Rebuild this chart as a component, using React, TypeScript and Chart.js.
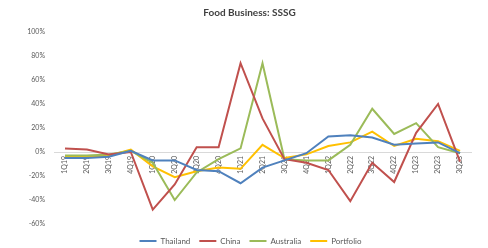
import React, { useEffect, useRef } from "react";
import { Chart, registerables } from "chart.js";

Chart.register(...registerables);

const categories = [
  "1Q19", "2Q19", "3Q19", "4Q19", "1Q20", "2Q20", "3Q20", "4Q20", "1Q21", "2Q21",
  "3Q21", "4Q21", "1Q22", "2Q22", "3Q22", "4Q22", "1Q23", "2Q23", "3Q23",
];
const thailand = [-5, -5, -4, 1, -7, -7, -15, -16, -26, -13, -7, -1, 13, 14, 12, 6, 7, 8, -1];
const china = [3, 2, -2, 0, -48, -27, 4, 4, 74, 28, -6, -9, -15, -41, -9, -25, 16, 40, -8];
const australia = [-3, -3, -2, 1, -9, -40, -17, -6, 3, 74, -6, -7, -7, 6, 36, 15, 24, 4, -1];
const portfolio = [-4, -4, -3, 2, -12, -21, -16, -13, -14, 6, -5, -2, 5, 8, 17, 5, 11, 9, 1];
const yTicks = [-60, -40, -20, 0, 20, 40, 60, 80, 100];

const FONT = "Lato";

const boxShift = {
  id: "boxShift",
  afterLayout(chart: any) {
    const lg = chart.legend;
    if (lg) {
      lg.left += 15;
      lg.right += 15;
      lg.top += 4;
      lg.bottom += 4;
    }
    const tt = chart.titleBlock;
    if (tt) {
      tt.left += 14;
      tt.right += 14;
    }
  },
};

export default function App() {
  const ref = useRef<HTMLCanvasElement | null>(null);
  useEffect(() => {
    if (!ref.current) return;
    const mk = (label: string, data: number[], color: string) => ({
      label,
      data,
      borderColor: color,
      backgroundColor: color,
      borderWidth: 2,
      pointRadius: 0,
      pointHoverRadius: 0,
      tension: 0,
      fill: false,
    });
    const chart = new Chart(ref.current, {
      type: "line",
      data: {
        labels: categories,
        datasets: [
          mk("Thailand", thailand, "#4F81BD"),
          mk("China", china, "#C0504D"),
          mk("Australia", australia, "#9BBB59"),
          mk("Portfolio", portfolio, "#FFC000"),
        ],
      },
      plugins: [boxShift],
      options: {
        animation: false,
        responsive: false,
        devicePixelRatio: 1,
        layout: { padding: { left: 0, right: 17, top: 0, bottom: -3 } },
        plugins: {
          title: {
            display: true,
            text: "Food Business: SSSG",
            color: "#404040",
            font: { family: FONT, size: 10, weight: "bold" },
            padding: { top: 7, bottom: 13 },
          },
          legend: {
            position: "bottom",
            labels: {
              usePointStyle: true,
              pointStyle: "line",
              pointStyleWidth: 17,
              color: "#595959",
              font: { family: FONT, size: 8 },
              padding: 9,
            },
          },
          tooltip: { enabled: false },
        },
        scales: {
          x: {
            position: { y: 0 } as any,
            offset: true,
            grid: { display: false, drawTicks: false },
            border: { display: true, color: "#D9D9D9", width: 1 },
            ticks: {
              autoSkip: false,
              minRotation: 90,
              maxRotation: 90,
              color: "#595959",
              padding: 4,
              font: { family: FONT, size: 7 },
            },
          },
          y: {
            min: -60,
            max: 100,
            afterBuildTicks: (s: any) => {
              s.ticks = yTicks.map((v) => ({ value: v }));
            },
            afterFit: (s: any) => {
              s.width = 54;
            },
            grid: { display: false, drawTicks: false },
            border: { display: false },
            ticks: {
              color: "#595959",
              padding: 9,
              font: { family: FONT, size: 7 },
              callback: (v: any) => `${v}%`,
            },
          },
        },
      },
    });
    return () => chart.destroy();
  }, []);
  return (
    <div style={{ position: "fixed", left: 0, top: 0, width: 488, height: 248, background: "#fff" }}>
      <canvas ref={ref} width={488} height={248} style={{ display: "block" }} />
    </div>
  );
}
